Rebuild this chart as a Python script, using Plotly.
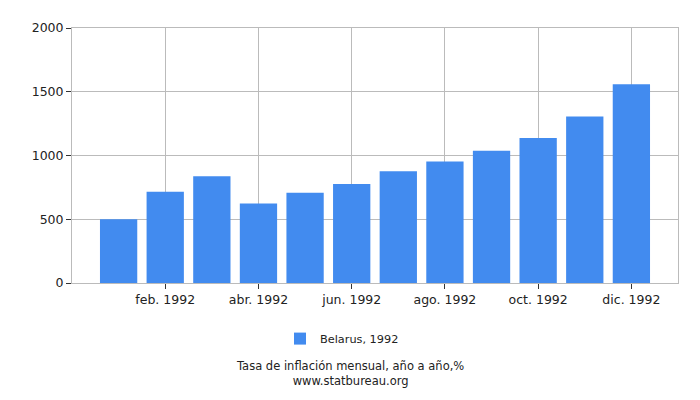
import plotly.graph_objects as go

months = ["ene. 1992", "feb. 1992", "mar. 1992", "abr. 1992", "may. 1992", "jun. 1992",
          "jul. 1992", "ago. 1992", "sep. 1992", "oct. 1992", "nov. 1992", "dic. 1992"]
values = [500, 715, 838, 623, 708, 777, 876, 953, 1037, 1137, 1305, 1558]
tick_labels = ["feb. 1992", "abr. 1992", "jun. 1992", "ago. 1992", "oct. 1992", "dic. 1992"]
series_name = "Belarus, 1992"
title_text = "Tasa de inflación mensual, año a año,%"
source_text = "www.statbureau.org"

color = "#428BEF"
font = "DejaVu Sans"

fig = go.Figure()
fig.add_trace(go.Bar(x=months, y=values, name=series_name, marker_color=color,
                     marker_line_width=0))

# page body has an 8px default margin, margins are compensated for it
fig.update_layout(
    width=700, height=400,
    margin=dict(l=64, r=30, t=14, b=125),
    paper_bgcolor="white", plot_bgcolor="white",
    bargap=0.2,
    showlegend=True,
    legend=dict(orientation="h", x=0.4455, xanchor="center", y=-0.218, yanchor="middle",
                font=dict(family=font, size=11.3, color="#222")),
    font=dict(family=font, size=12.5, color="#222"),
)
fig.update_xaxes(
    type="category", categoryorder="array", categoryarray=months,
    range=[-1, 12],
    tickmode="array", tickvals=tick_labels, ticktext=tick_labels,
    showgrid=True, gridcolor="#bbbbbb", gridwidth=1,
    ticks="outside", ticklen=5, tickcolor="#333",
    showline=True, linecolor="#bbbbbb", mirror=True,
    tickfont=dict(family=font, size=12.5, color="#222"),
)
fig.update_yaxes(
    range=[0, 2000], tickvals=[0, 500, 1000, 1500, 2000],
    showgrid=True, gridcolor="#bbbbbb", gridwidth=1,
    ticks="outside", ticklen=5, tickcolor="#333",
    showline=True, linecolor="#bbbbbb", mirror=True,
    zeroline=False,
    tickfont=dict(family=font, size=12.5, color="#222"),
)
fig.add_annotation(text=title_text + "<br>" + source_text, xref="paper", yref="paper",
                   x=0.4587, y=-0.356, showarrow=False, yanchor="middle", align="center",
                   font=dict(family=font, size=11.5, color="#222"))

fig.write_html("out.html")
